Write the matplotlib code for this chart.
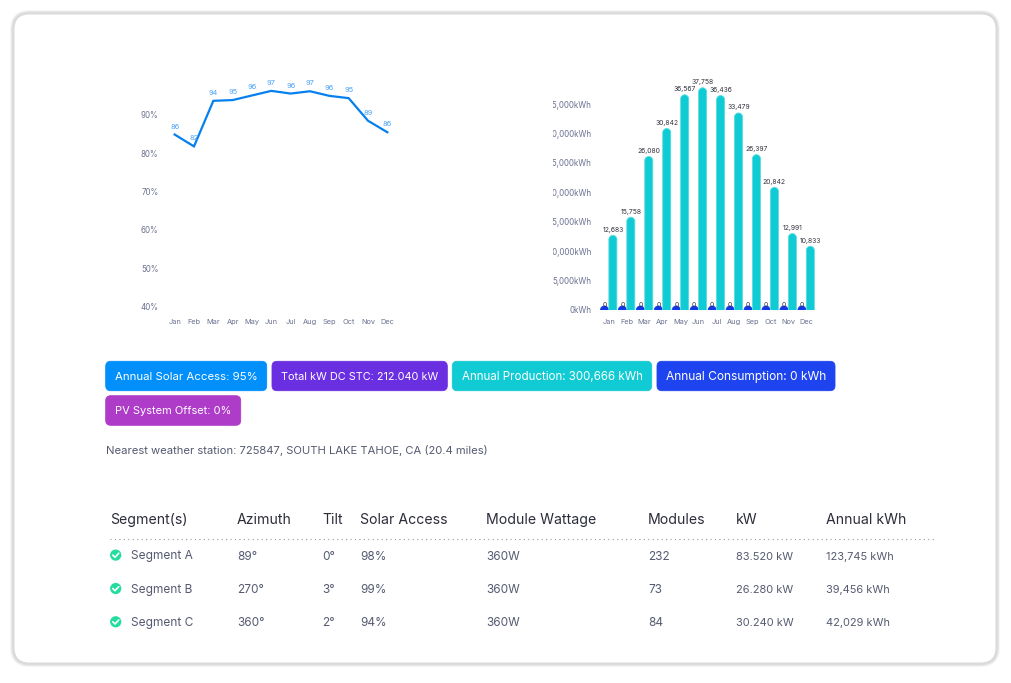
import numpy as np
import matplotlib
matplotlib.use('Agg')
import matplotlib.pyplot as plt
from matplotlib.lines import Line2D
from matplotlib.patches import Circle, FancyBboxPatch, PathPatch
from matplotlib.path import Path
from matplotlib.transforms import Bbox

months = ['Jan', 'Feb', 'Mar', 'Apr', 'May', 'Jun', 'Jul', 'Aug', 'Sep', 'Oct', 'Nov', 'Dec']
solar_access = [84.9, 81.8, 93.7, 93.9, 95.1, 96.3, 95.6, 96.2, 95.0, 94.4, 88.5, 85.5]
solar_labels = ['86', '82', '94', '95', '96', '97', '96', '97', '96', '95', '89', '86']
production = [12683, 15758, 26080, 30842, 36567, 37758, 36436, 33479, 26397, 20842, 12991, 10833]
consumption = [0, 0, 0, 0, 0, 0, 0, 0, 0, 0, 0, 0]
pct_ticks = [40, 50, 60, 70, 80, 90]
kwh_ticks = [0, 5000, 10000, 15000, 20000, 25000, 30000, 35000]

badge_text = ['Annual Solar Access: 95%', 'Total kW DC STC: 212.040 kW',
              'Annual Production: 300,666 kWh', 'Annual Consumption: 0 kWh',
              'PV System Offset: 0%']
badge_colors = ['#008ffb', '#6a2fe0', '#10cbd3', '#1e44f0', '#ae3cc9']
station = 'Nearest weather station: 725847, SOUTH LAKE TAHOE, CA (20.4 miles)'

headers = ['Segment(s)', 'Azimuth', 'Tilt', 'Solar Access', 'Module Wattage',
           'Modules', 'kW', 'Annual kWh']
segments = ['Segment A', 'Segment B', 'Segment C']
azimuth = ['89°', '270°', '360°']
tilt = ['0°', '3°', '2°']
access = ['98%', '99%', '94%']
wattage = ['360W', '360W', '360W']
modules = ['232', '73', '84']
kw = ['83.520 kW', '26.280 kW', '30.240 kW']
annual_kwh = ['123,745 kWh', '39,456 kWh', '42,029 kWh']

W, H = 1011, 683
TICK_COLOR = '#6b7190'
ROW_COLOR = '#555a70'
plt.rcParams['font.family'] = ['Inter', 'DejaVu Sans']


def px(size):
    return size * 0.72


def axes_at(fig, left, top, right, bottom):
    return fig.add_axes([left / W, 1 - bottom / H, (right - left) / W, (bottom - top) / H])


def clean(ax):
    ax.set_facecolor('none')
    for spine in ax.spines.values():
        spine.set_visible(False)


def rounded_bars(ax, bars, color, edge, aspect):
    # round top taken from each bar's own geometry, zero bars keep a small dome
    k = 0.55
    for bar in bars:
        x, w = bar.get_x(), bar.get_width()
        r = w / 2
        ry = r * aspect
        top = max(bar.get_height(), ry)
        verts = [(x, 0), (x, top - ry),
                 (x, top - ry + k * ry), (x + r - k * r, top), (x + r, top),
                 (x + r + k * r, top), (x + w, top - ry + k * ry), (x + w, top - ry),
                 (x + w, 0)]
        codes = [Path.MOVETO, Path.LINETO] + [Path.CURVE4] * 6 + [Path.LINETO]
        ax.add_patch(PathPatch(Path(verts, codes), facecolor=color, edgecolor=edge, linewidth=0.6))
        bar.set_visible(False)


fig = plt.figure(figsize=(W / 100, H / 100), dpi=100, facecolor='white')

bg = fig.add_axes([0, 0, 1, 1])
bg.set_xlim(0, W)
bg.set_ylim(H, 0)
bg.axis('off')

# card border, soft shadow built from stacked strokes
for lw, col in [(6.5, '#f3f3f3'), (5, '#eaeaea'), (3.5, '#e0e0e0'), (2, '#dadada')]:
    bg.add_patch(FancyBboxPatch((13.5, 13.5), 983, 650,
                                boxstyle='round,pad=0,rounding_size=16',
                                facecolor='white', edgecolor=col, linewidth=px(lw)))
bg.add_patch(FancyBboxPatch((15.5, 15.5), 979, 646,
                            boxstyle='round,pad=0,rounding_size=15',
                            facecolor='white', edgecolor='none'))

# badges
badge_boxes = [(105.7, 361.3, 161, 29.4), (272, 361.3, 175.3, 29.4), (452.3, 361.3, 199.4, 29.4),
               (657, 361.3, 178, 29.4), (105.7, 395.7, 135, 29.6)]
badge_sizes = [11.45, 10.9, 11.55, 12.0, 11.1]
for text, color, (x, y, w, h), size in zip(badge_text, badge_colors, badge_boxes, badge_sizes):
    bg.add_patch(FancyBboxPatch((x, y), w, h, boxstyle='round,pad=0,rounding_size=5',
                                facecolor=color, edgecolor=color, linewidth=0.6))
    bg.text(x + 9.3, y + h / 2 + 0.7, text, color='white', fontsize=px(size), ha='left', va='center')

bg.text(105.5, 450.5, station, color=ROW_COLOR, fontsize=px(11.2), ha='left', va='center')

# table
col_x = [110, 237, 322, 360, 486, 648, 736, 826]
for x, text in zip(col_x, headers):
    bg.text(x, 520, text, color='#2b2d3a', fontsize=px(14.1), ha='left', va='center')
bg.plot([110, 936], [539, 539], color='#999999', linewidth=0.8, linestyle=(0, (1, 3)))

row_y = [556.5, 589.9, 623.2]
columns = [azimuth, tilt, access, wattage, modules, kw, annual_kwh]
col_size = [11.8, 11.8, 11.8, 11.8, 11.8, 11.0, 11.0]
for i, y in enumerate(row_y):
    bg.add_patch(Circle((115.7, y - 1.4), 5.6, facecolor='#22dca0', edgecolor='none'))
    bg.add_line(Line2D([112.8, 115, 118.8], [y - 1.4, y + 0.8, y - 3.3], color='white',
                       linewidth=1.2, solid_capstyle='round', solid_joinstyle='round'))
    bg.text(131, y, segments[i], color=ROW_COLOR, fontsize=px(11.9), ha='left', va='center')
    for x, column, size in zip(col_x[1:], columns, col_size):
        bg.text(x, y, column[i], color=ROW_COLOR, fontsize=px(size), ha='left', va='center')

# solar access line
ax1 = axes_at(fig, 165, 76.7, 397, 306.5)
clean(ax1)
x1 = np.arange(len(months))
ax1.plot(x1, solar_access, color='#0580ee', linewidth=1.6, solid_joinstyle='miter')
ax1.set_xlim(-0.5, 11.5)
ax1.set_ylim(40, 100)
ax1.set_xticks(x1, months, va='baseline')
ax1.set_yticks(pct_ticks, ['%d%%' % t for t in pct_ticks])
ax1.tick_params(axis='both', length=0, labelcolor=TICK_COLOR)
ax1.tick_params(axis='x', labelsize=px(7.4), pad=px(17.5))
ax1.tick_params(axis='y', labelsize=px(8), pad=px(6.5))
for x, v, label in zip(x1, solar_access, solar_labels):
    ax1.annotate(label, (x, v), xytext=(0, px(8)), textcoords='offset points', ha='center',
                 va='center', color='#4aa3f5', fontsize=px(7.4))

# production / consumption bars
ax2 = axes_at(fig, 599.7, 74.6, 815.1, 310)
clean(ax2)
x2 = np.arange(len(months))
bar_w = 8 / 17.95
offset = 4.2 / 17.95
ax2.set_xlim(-0.5, 11.5)
ax2.set_ylim(0, 40000)
aspect = (5000 / 29.43) * 17.95
blue_bars = ax2.bar(x2 - offset, consumption, bar_w)
teal_bars = ax2.bar(x2 + offset, production, bar_w)
rounded_bars(ax2, blue_bars, '#1237e8', '#1237e8', aspect)
rounded_bars(ax2, teal_bars, '#10cbd3', '#55dde2', aspect)
ax2.set_xticks(x2, months, va='baseline')
ax2.set_yticks(kwh_ticks, ['{:,}kWh'.format(t) for t in kwh_ticks])
ax2.tick_params(axis='both', length=0, labelcolor=TICK_COLOR)
ax2.tick_params(axis='x', labelsize=px(7.4), pad=px(14))
ax2.tick_params(axis='y', labelsize=px(8), pad=px(8))
for x, v in zip(x2 + offset, production):
    ax2.annotate('{:,}'.format(v), (x, v), xytext=(0, px(5.5)), textcoords='offset points',
                 ha='center', va='center', color='#333340', fontsize=px(6.8))
for x, v in zip(x2 - offset, consumption):
    ax2.annotate(str(v), (x, v), xytext=(0, px(4.5)), textcoords='offset points',
                 ha='center', va='center', color='#333340', fontsize=px(6.8))

# the y labels are cut off on the left in the original
fig.canvas.draw()
for label in ax2.get_yticklabels():
    label.set_clip_box(Bbox([[553, 0], [700, H]]))
    label.set_clip_on(True)

fig.savefig('out.png', dpi=100, facecolor='white')
